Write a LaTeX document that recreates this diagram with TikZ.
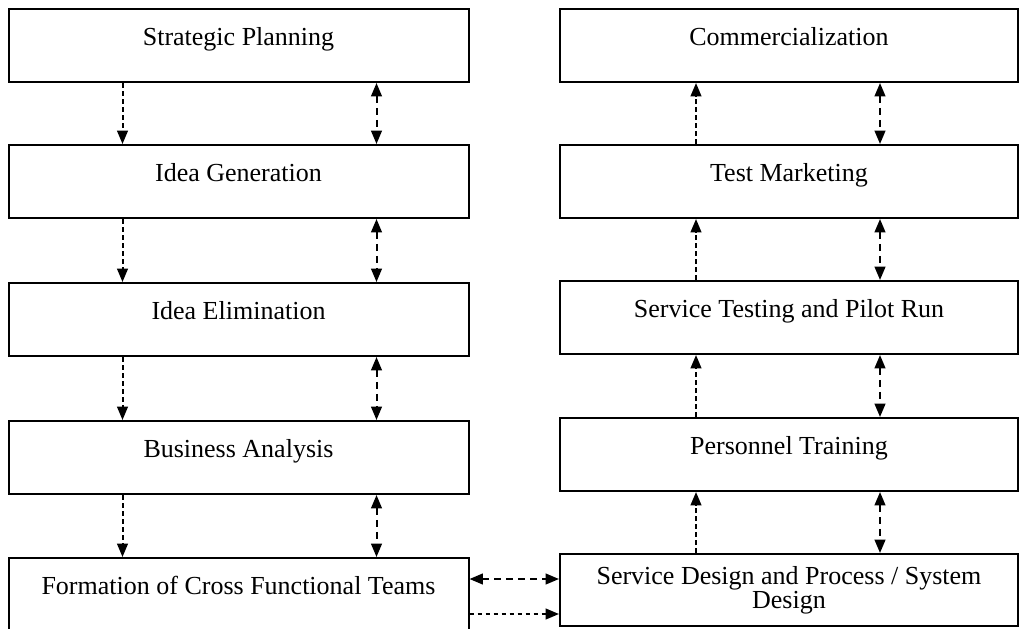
\documentclass[tikz,border=0pt]{standalone}
\usepackage{fontspec}
\setmainfont{Liberation Serif}
\usetikzlibrary{arrows.meta}

\begin{document}
\begin{tikzpicture}[x=0.75pt,y=-0.75pt]
\tikzstyle{box}=[draw,shape=rectangle,line width=1.5pt,inner sep=0pt,anchor=north,align=center,font=\fontsize{19.5}{18}\selectfont];
\tikzstyle{stage}=[box,text height=27pt,text depth=27.75pt];
\tikzstyle{flow}=[line width=1.5pt,dash pattern=on 3.5pt off 2.5pt,-{Triangle[length=10pt,width=8pt]}];
\tikzstyle{link}=[line width=1.5pt,dash pattern=on 5pt off 4pt,{Triangle[length=10pt,width=8pt]}-{Triangle[length=10pt,width=8pt]}];
\useasboundingbox (0,0) rectangle (1020,628);
% left column
\node[stage,minimum width=345pt] (L1) at (238.5,8) {Strategic Planning};
\node[stage,minimum width=345pt] (L2) at (238.5,144) {Idea Generation};
\node[stage,minimum width=345pt] (L3) at (238.5,282) {Idea Elimination};
\node[stage,minimum width=345pt] (L4) at (238.5,420) {Business Analysis};
\node[stage,minimum width=345pt] (L5) at (238.5,557) {Formation of Cross Functional Teams};
% right column
\node[stage,minimum width=343.5pt] (R1) at (789,8) {Commercialization};
\node[stage,minimum width=343.5pt] (R2) at (789,144) {Test Marketing};
\node[stage,minimum width=343.5pt] (R3) at (789,280) {Service Testing and Pilot Run};
\node[stage,minimum width=343.5pt] (R4) at (789,417) {Personnel Training};
\node[box,minimum width=343.5pt,minimum height=54pt] (R5) at (789,553) {Service Design and Process / System\\Design};
% arrows
\foreach \a/\b in {L1/L2,L2/L3,L3/L4,L4/L5}{
	\draw[flow] ([xshift=86.25pt]\a.south west) -- ([xshift=86.25pt]\b.north west);
	\draw[link] ([xshift=276.75pt]\a.south west) -- ([xshift=276.75pt]\b.north west);
}
\foreach \a/\b in {R1/R2,R2/R3,R3/R4,R4/R5}{
	\draw[flow] ([xshift=102.75pt]\b.north west) -- ([xshift=102.75pt]\a.south west);
	\draw[link] ([xshift=240.75pt]\a.south west) -- ([xshift=240.75pt]\b.north west);
}
\coordinate (c1) at ([yshift=-16.5pt]L5.north east);
\coordinate (c2) at ([yshift=-42.75pt]L5.north east);
\draw[link] (c1) -- (c1 -| R5.west);
\draw[flow] (c2) -- (c2 -| R5.west);
\end{tikzpicture}
\end{document}
